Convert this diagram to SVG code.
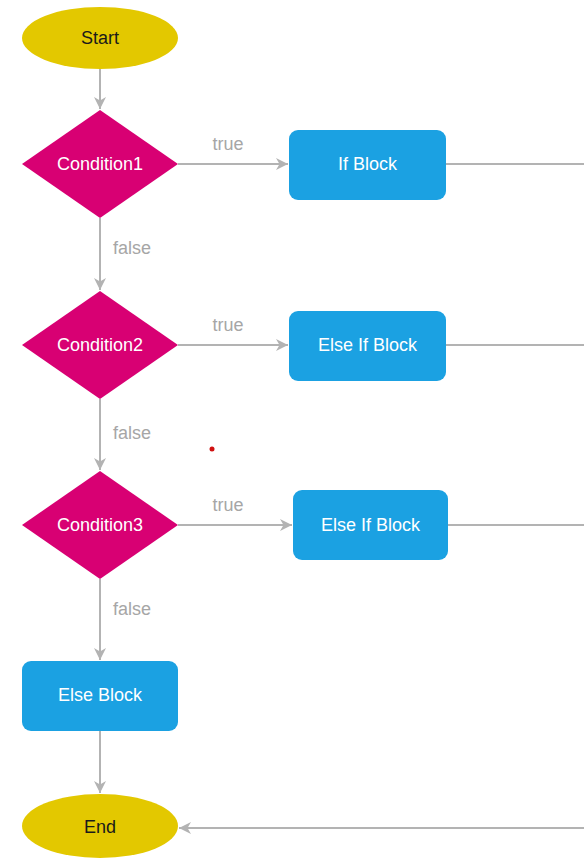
<svg xmlns="http://www.w3.org/2000/svg" width="584" height="859" viewBox="0 0 584 859">
  <style>
    .term { fill: #e3c800; }
    .cond { fill: #d80073; }
    .proc { fill: #1ba1e2; }
    .txt { font-family: "Liberation Sans", Arial, sans-serif; font-size: 18px; text-anchor: middle; dominant-baseline: central; }
    .dark { fill: #1a1a1a; }
    .light { fill: #ffffff; }
    .lbl { font-family: "Liberation Sans", Arial, sans-serif; font-size: 18px; fill: #a6a6a6; text-anchor: middle; dominant-baseline: central; }
    .edge { fill: none; stroke: #b3b3b3; stroke-width: 2; }
  </style>
  <defs>
    <marker id="arrow" viewBox="0 0 14 14" refX="13" refY="7" markerWidth="14" markerHeight="14" markerUnits="userSpaceOnUse" orient="auto">
      <path d="M1,1 L13,7 L1,13 L4.5,7 z" fill="#b3b3b3"/>
    </marker>
  </defs>

  <rect width="584" height="859" fill="#ffffff"/>

  <!-- connectors -->
  <g id="connectors">
    <path class="edge" d="M100,69 V109" marker-end="url(#arrow)"/>
    <path class="edge" d="M178,164 H288" marker-end="url(#arrow)"/>
    <path class="edge" d="M446,164 H584"/>
    <path class="edge" d="M100,218 V290" marker-end="url(#arrow)"/>
    <path class="edge" d="M178,345 H288" marker-end="url(#arrow)"/>
    <path class="edge" d="M446,345 H584"/>
    <path class="edge" d="M100,399 V470" marker-end="url(#arrow)"/>
    <path class="edge" d="M178,525 H292" marker-end="url(#arrow)"/>
    <path class="edge" d="M448,525 H584"/>
    <path class="edge" d="M100,579 V660" marker-end="url(#arrow)"/>
    <path class="edge" d="M100,731 V793" marker-end="url(#arrow)"/>
    <path class="edge" d="M584,828 H179" marker-end="url(#arrow)"/>
    <text class="lbl" x="228" y="144">true</text>
    <text class="lbl" x="228" y="325">true</text>
    <text class="lbl" x="228" y="505">true</text>
    <text class="lbl" x="132" y="248">false</text>
    <text class="lbl" x="132" y="433">false</text>
    <text class="lbl" x="132" y="609">false</text>
  </g>

  <g id="start">
    <ellipse class="term" cx="100" cy="38" rx="78" ry="31"/>
    <text class="txt dark" x="100" y="38">Start</text>
  </g>

  <g id="condition1">
    <polygon class="cond" points="100,110 178,164 100,218 22,164"/>
    <text class="txt light" x="100" y="164">Condition1</text>
  </g>

  <g id="if-block">
    <rect class="proc" x="289" y="130" width="157" height="70" rx="9"/>
    <text class="txt light" x="367.5" y="164">If Block</text>
  </g>

  <g id="condition2">
    <polygon class="cond" points="100,291 178,345 100,399 22,345"/>
    <text class="txt light" x="100" y="345">Condition2</text>
  </g>

  <g id="else-if-block-1">
    <rect class="proc" x="289" y="311" width="157" height="70" rx="9"/>
    <text class="txt light" x="367.5" y="345">Else If Block</text>
  </g>

  <g id="condition3">
    <polygon class="cond" points="100,471 178,525 100,579 22,525"/>
    <text class="txt light" x="100" y="525">Condition3</text>
  </g>

  <g id="else-if-block-2">
    <rect class="proc" x="293" y="490" width="155" height="70" rx="9"/>
    <text class="txt light" x="370.5" y="525">Else If Block</text>
  </g>

  <g id="else-block">
    <rect class="proc" x="22" y="661" width="156" height="70" rx="9"/>
    <text class="txt light" x="100" y="695">Else Block</text>
  </g>

  <g id="end">
    <ellipse class="term" cx="100" cy="826" rx="78" ry="32"/>
    <text class="txt dark" x="100" y="827">End</text>
  </g>

  <circle cx="212" cy="449" r="2.5" fill="#d01010"/>
</svg>
